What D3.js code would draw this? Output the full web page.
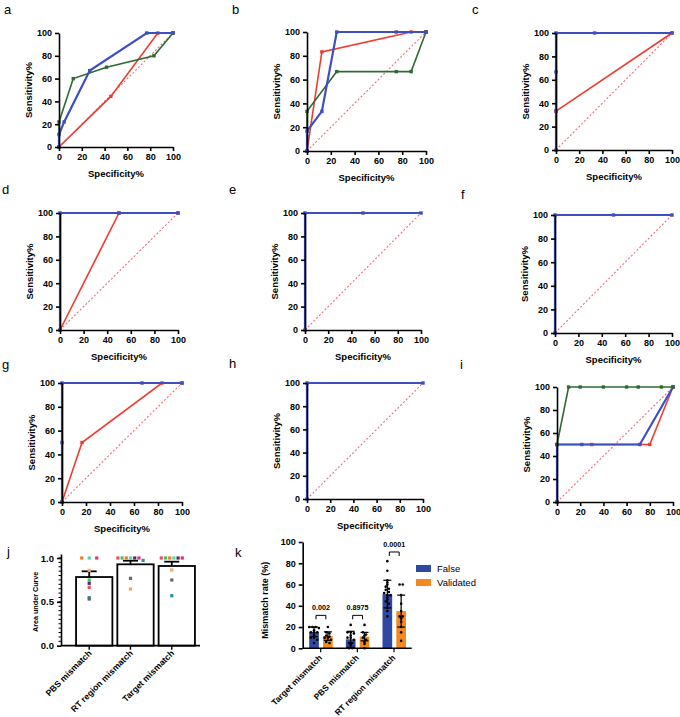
<!DOCTYPE html>
<html><head><meta charset="utf-8">
<script src="https://cdn.jsdelivr.net/npm/d3@7"></script>
<style>
body{margin:0;background:#fff;}
text{font-family:"Liberation Sans",Arial,sans-serif;}
</style></head>
<body><svg id="c" width="680" height="717"></svg>
<script>
// ---------- DATA ----------
const rocTicks = [0, 20, 40, 60, 80, 100];
const diagonal = [[0, 0], [100, 100]];
const aBlue = [[0,0],[0,11],[4.5,22],[27,67],[77,100],[100,100]];
const aRed = [[0,0],[45.5,44.4],[86.7,100],[100,100]];
const aGreen = [[0,0],[0,22],[12.5,60],[41.7,70],[83.3,80],[100,100]];
const bBlue = [[0,0],[0,16.7],[12.5,33.3],[25,100],[75,100],[100,100]];
const bRed = [[0,0],[12.5,83.3],[87.5,100],[100,100]];
const bGreen = [[0,0],[0,33.3],[25,66.7],[75,66.7],[87.5,66.7],[100,100]];
const cBlue = [[0,0],[0,33.3],[0,66.7],[0,100],[33.3,100],[100,100]];
const cRed = [[0,33.3],[100,100]];
const dBlue = [[0,0],[0,100],[50,100],[100,100]];
const dRed = [[0,0],[50,100],[100,100]];
const eBlue = [[0,0],[0,100],[50,100],[100,100]];
const fBlue = [[0,0],[0,100],[50,100],[100,100]];
const gBlue = [[0,0],[0,50],[0,100],[66.7,100],[100,100]];
const gRed = [[0,0],[16.7,50],[83.3,100],[100,100]];
const hBlue = [[0,0],[0,100],[100,100]];
const iBlue = [[0,0],[0,50],[21.4,50],[71.4,50],[100,100]];
const iRed = [[0,0],[0,50],[30,50],[80,50],[100,100]];
const iGreen = [[0,50],[10,100],[20,100],[40,100],[60,100],[70,100],[90,100],[100,100]];

const jCats = ["PBS mismatch", "RT region mismatch", "Target mismatch"];
const jMeans = [0.783, 0.928, 0.909];
const jSem = [0.065, 0.041, 0.049];
const jTicks = [0, 0.5, 1.0];
const jSets = ["a","b","c","d","e","f","g","h","i"];
const jPBS = [0.532, 0.859, 0.665, 0.749, 1, 1, 0.711, 1, 0.548];
const jRT = [0.768, 0.646, 1, 1, 1, 1, 1, 1, 0.973];
const jTarget = [0.749, 0.863, 1, 1, 1, 1, 1, 1, 0.570];

const kCats = ["Target mismatch", "PBS mismatch", "RT region mismatch"];
const kSeries = ["False", "Validated"];
const kFalseMean = [15.5, 8.5, 51];
const kFalseSd = [4.5, 7.5, 13];
const kValMean = [11.5, 11, 35];
const kValSd = [4, 4, 15];
const kTicks = [0, 20, 40, 60, 80, 100];
const kFalsePts = [
  [20,20,20,19,17,15,15,15,12,10,10,8,5],
  [22,15,15,14,12,10,10,8,5,5,3,0,0],
  [82,73,64,62,60,58,56,55,53,52,50,50,48,46,44,42,38,35,30]
];
const kValPts = [
  [20,15,14,12,11,10,10,8,6,5],
  [22,15,13,12,10,8,6,4,0],
  [60,60,50,42,35,30,30,28,25,20,15,7]
];
const kP = ["0.002", "0.8975", "0.0001"];

// ---------- STYLE ----------
const BLUE = "#3d4fc1", RED = "#f03a2e", GREEN = "#2f6b30";
const setColors = ["#666666","#f6a55d","#ef4d5c","#3ec46d","#f07d22","#5ad6a0","#5b2a6e","#e8306f","#2a8dab"];
const svg = d3.select("#c");

function axisStyle(g){
  g.selectAll("path,line").attr("stroke","#000").attr("stroke-width",1.6);
  g.selectAll("text").attr("font-weight","bold").attr("font-size","9px").attr("fill","#000");
}

const rocPanels = [
  {L:"a",x0:59,x1:173,y0:33,y1:147,lx:4,ly:14,xt:true,series:[[aRed,RED],[aGreen,GREEN],[aBlue,BLUE]]},
  {L:"b",x0:307,x1:426,y0:32,y1:151,lx:232,ly:14,xt:true,series:[[bRed,RED],[bGreen,GREEN],[bBlue,BLUE]]},
  {L:"c",x0:556,x1:672,y0:33,y1:150,lx:472,ly:14,xt:true,series:[[cRed,RED],[cBlue,BLUE]]},
  {L:"d",x0:60,x1:178,y0:213,y1:330,lx:2,ly:194,xt:true,series:[[dRed,RED],[dBlue,BLUE]]},
  {L:"e",x0:305,x1:421,y0:213,y1:330,lx:229,ly:194,xt:true,series:[[eBlue,BLUE]]},
  {L:"f",x0:555,x1:672,y0:215,y1:333,lx:461,ly:199,xt:true,series:[[fBlue,BLUE]]},
  {L:"g",x0:62,x1:182,y0:383,y1:502,lx:2,ly:369,xt:true,series:[[gRed,RED],[gBlue,BLUE]]},
  {L:"h",x0:307,x1:423,y0:383,y1:499,lx:229,ly:368,xt:true,series:[[hBlue,BLUE]]},
  {L:"i",x0:557,x1:673,y0:387,y1:502,lx:460,ly:369,xt:false,series:[[iRed,RED],[iBlue,BLUE],[iGreen,GREEN]]}
];

rocPanels.forEach(p=>{
  const x = d3.scaleLinear().domain([0,100]).range([p.x0,p.x1]);
  const y = d3.scaleLinear().domain([0,100]).range([p.y1,p.y0]);
  const g = svg.append("g");
  g.append("text").attr("x",p.lx).attr("y",p.ly).attr("font-size","13px").text(p.L);
  const line = d3.line().x(d=>x(d[0])).y(d=>y(d[1]));
  g.append("path").attr("d",line(diagonal)).attr("fill","none").attr("stroke","#f26a74")
    .attr("stroke-width",1.1).attr("stroke-dasharray","2,2");
  p.series.forEach(([data,col])=>{
    g.append("path").attr("d",line(data)).attr("fill","none").attr("stroke",col).attr("stroke-width",col===BLUE?2.2:1.6);
    g.selectAll(null).data(data).enter().append("rect")
      .attr("x",d=>x(d[0])-1.7).attr("y",d=>y(d[1])-1.7).attr("width",3.4).attr("height",3.4).attr("fill",col);
  });
  const ax = g.append("g").attr("transform",`translate(0,${p.y1})`)
    .call(d3.axisBottom(x).tickValues(rocTicks).tickSize(4).tickSizeOuter(0));
  axisStyle(ax);
  const ay = g.append("g").attr("transform",`translate(${p.x0},0)`)
    .call(d3.axisLeft(y).tickValues(rocTicks).tickSize(4).tickSizeOuter(0));
  axisStyle(ay);
  if(p.xt) g.append("text").attr("x",(p.x0+p.x1)/2).attr("y",p.y1+30).attr("text-anchor","middle")
    .attr("font-weight","bold").attr("font-size","9.5px").text("Specificity%");
  g.append("text").attr("transform",`translate(${p.x0-27},${(p.y0+p.y1)/2}) rotate(-90)`)
    .attr("text-anchor","middle").attr("font-weight","bold").attr("font-size","9.5px").text("Sensitivity%");
});

// ---------- panel j ----------
(function(){
  const g = svg.append("g");
  g.append("text").attr("x",7).attr("y",556).attr("font-size","13px").text("j");
  const X0=61, X1=200, Y0=645.7, OFF=5;
  const x = d3.scaleBand().domain(jCats).range([74,197]).paddingInner(0.12).paddingOuter(0.05);
  const y = d3.scaleLinear().domain([0,1]).range([Y0,558]);
  const bw = x.bandwidth();
  const sets = [jPBS,jRT,jTarget];
  jCats.forEach((c,i)=>{
    const cx = x(c)+bw/2;
    g.append("rect").attr("x",x(c)).attr("y",y(jMeans[i])).attr("width",bw).attr("height",Y0-y(jMeans[i]))
      .attr("fill","#fff").attr("stroke","#000").attr("stroke-width",1.8);
    const cx2 = cx-OFF;
    g.append("line").attr("x1",cx2).attr("x2",cx2).attr("y1",y(jMeans[i])).attr("y2",y(jMeans[i]+jSem[i])).attr("stroke","#000").attr("stroke-width",1.8);
    g.append("line").attr("x1",cx2-7.5).attr("x2",cx2+7.5).attr("y1",y(jMeans[i]+jSem[i])).attr("y2",y(jMeans[i]+jSem[i])).attr("stroke","#000").attr("stroke-width",1.8);
    const vals = sets[i];
    const groups = {};
    vals.forEach((v,k)=>{const key=Math.round(y(v)/4); (groups[key]=groups[key]||[]).push(k);});
    Object.values(groups).forEach(idx=>{
      const n=idx.length, sp = n>3?4.2:7.5;
      idx.forEach((k,j)=>{
        g.append("rect").attr("x",cx2+(j-(n-1)/2)*sp-1.6).attr("y",y(vals[k])-1.6).attr("width",3.2).attr("height",3.2).attr("fill",setColors[k]);
      });
    });
  });
  g.append("line").attr("x1",X0).attr("x2",X1).attr("y1",Y0).attr("y2",Y0).attr("stroke","#000").attr("stroke-width",1.8);
  jCats.forEach(c=>{
    const cx = x(c)+bw/2-OFF;
    g.append("line").attr("x1",cx).attr("x2",cx).attr("y1",Y0).attr("y2",Y0+4).attr("stroke","#000").attr("stroke-width",1.4);
    g.append("text").attr("transform",`translate(${cx+3},${Y0+8}) rotate(-45)`).attr("text-anchor","end")
      .attr("font-weight","bold").attr("font-size","8.7px").text(c);
  });
  const yAxisScale = d3.scaleLinear().domain([0,1.045]).range([Y0,y(1.045)]);
  const ay = g.append("g").attr("transform",`translate(${X0},0)`)
    .call(d3.axisLeft(yAxisScale).tickValues(jTicks).tickFormat(d3.format(".1f")).tickSize(4).tickSizeOuter(0));
  axisStyle(ay);
  ay.selectAll("text").attr("font-size","9.5px");
  d3.range(0.05,1.04,0.05).forEach(v=>{
    g.append("line").attr("x1",X0).attr("x2",X0-2.5).attr("y1",y(v)).attr("y2",y(v)).attr("stroke","#000").attr("stroke-width",1);
  });
  g.append("text").attr("transform",`translate(38,${(Y0+558)/2}) rotate(-90)`).attr("text-anchor","middle")
    .attr("font-weight","bold").attr("font-size","7.2px").text("Area under Curve");
})();

// ---------- panel k ----------
(function(){
  const g = svg.append("g");
  g.append("text").attr("x",235).attr("y",557).attr("font-size","13px").text("k");
  const X0=302.7, X1=411.7, Y0=648.3;
  const x = d3.scalePoint().domain(kCats).range([320.7,394]);
  const y = d3.scaleLinear().domain([0,100]).range([Y0,542]);
  const xs = d3.scaleBand().domain(kSeries).range([-11.5,12]).paddingInner(0.3);
  const cols = {"False":"#2f49a3","Validated":"#f5881f"};
  const means = {"False":kFalseMean,"Validated":kValMean};
  const sds = {"False":kFalseSd,"Validated":kValSd};
  const pts = {"False":kFalsePts,"Validated":kValPts};
  kCats.forEach((c,i)=>{
    kSeries.forEach(s=>{
      const bx = x(c)+xs(s), bw = xs.bandwidth(), cx = bx+bw/2;
      g.append("rect").attr("x",bx).attr("y",y(means[s][i])).attr("width",bw).attr("height",Y0-y(means[s][i])).attr("fill",cols[s]);
      const vals = pts[s][i];
      const groups = {};
      vals.forEach((v,k)=>{const key=Math.round(y(v)/3); (groups[key]=groups[key]||[]).push(v);});
      Object.values(groups).forEach(arr=>{
        const n=arr.length;
        arr.forEach((v,j)=>{
          g.append("circle").attr("cx",cx+(j-(n-1)/2)*3.2).attr("cy",y(v)).attr("r",1.3).attr("fill","#000");
        });
      });
      const lo = Math.max(0,means[s][i]-sds[s][i]), hi = means[s][i]+sds[s][i];
      g.append("line").attr("x1",cx).attr("x2",cx).attr("y1",y(lo)).attr("y2",y(hi)).attr("stroke","#000").attr("stroke-width",1.2);
      [lo,hi].forEach(v=>g.append("line").attr("x1",cx-4).attr("x2",cx+4).attr("y1",y(v)).attr("y2",y(v)).attr("stroke","#000").attr("stroke-width",1.2));
    });
    const by = i===2 ? y(90.6) : y(31);
    const xa = x(c)+xs("False")+xs.bandwidth()/2+2, xb = x(c)+xs("Validated")+xs.bandwidth()/2-2;
    g.append("path").attr("d",`M${xa},${by+4}V${by}H${xb}V${by+4}`).attr("fill","none").attr("stroke","#000").attr("stroke-width",1);
    g.append("text").attr("x",(xa+xb)/2).attr("y",by-5).attr("text-anchor","middle").attr("font-weight","bold").attr("font-size","7.2px").attr("fill","#000").text(kP[i]);
  });
  g.append("line").attr("x1",X0).attr("x2",X1).attr("y1",Y0).attr("y2",Y0).attr("stroke","#000").attr("stroke-width",1.6);
  kCats.forEach(c=>{
    g.append("line").attr("x1",x(c)).attr("x2",x(c)).attr("y1",Y0).attr("y2",Y0+4).attr("stroke","#000").attr("stroke-width",1.2);
    g.append("text").attr("transform",`translate(${x(c)+2},${Y0+10}) rotate(-45)`).attr("text-anchor","end")
      .attr("font-weight","bold").attr("font-size","8.5px").text(c);
  });
  const ay = g.append("g").attr("transform",`translate(${X0},0)`)
    .call(d3.axisLeft(y).tickValues(kTicks).tickSize(4).tickSizeOuter(0));
  axisStyle(ay);
  g.append("text").attr("transform",`translate(268,${(Y0+542)/2+5}) rotate(-90)`).attr("text-anchor","middle")
    .attr("font-weight","bold").attr("font-size","9px").text("Mismatch rate  (%)");
  kSeries.forEach((s,i)=>{
    g.append("rect").attr("x",416).attr("y",565+i*14).attr("width",15).attr("height",7).attr("fill",cols[s]);
    g.append("text").attr("x",437).attr("y",572+i*14).attr("font-size","9.5px").text(s);
  });
})();
</script></body></html>
